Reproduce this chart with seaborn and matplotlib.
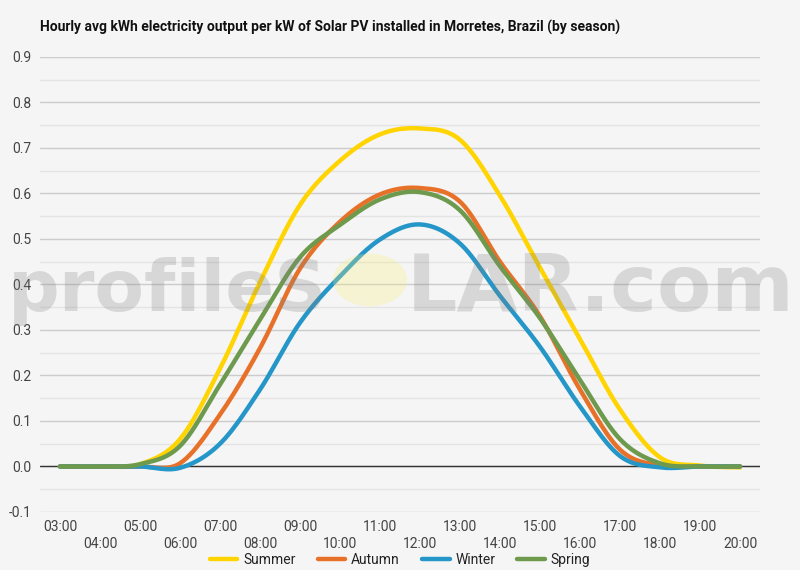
import numpy as np
import pandas as pd
import seaborn as sns
import matplotlib.pyplot as plt
from matplotlib.patches import Circle

hours = list(range(3, 21))
hour_labels = ['03:00', '04:00', '05:00', '06:00', '07:00', '08:00', '09:00', '10:00', '11:00',
               '12:00', '13:00', '14:00', '15:00', '16:00', '17:00', '18:00', '19:00', '20:00']
seasons = ['Summer', 'Autumn', 'Winter', 'Spring']
summer = [0.0, 0.0, 0.005, 0.06, 0.215, 0.405, 0.575, 0.672, 0.73, 0.743, 0.718, 0.595, 0.437, 0.28, 0.125, 0.02, 0.002, -0.002]
autumn = [0.0, 0.0, 0.0, 0.007, 0.114, 0.26, 0.435, 0.538, 0.598, 0.612, 0.582, 0.45, 0.33, 0.169, 0.037, 0.002, 0.0, 0.0]
winter = [0.0, 0.0, 0.0, -0.003, 0.05, 0.169, 0.316, 0.418, 0.499, 0.532, 0.49, 0.375, 0.263, 0.132, 0.023, -0.002, 0.0, 0.0]
spring = [0.0, 0.0, 0.005, 0.045, 0.18, 0.323, 0.46, 0.531, 0.587, 0.603, 0.563, 0.44, 0.326, 0.19, 0.06, 0.007, 0.0, 0.0]
colors = ['#FFD400', '#E8712A', '#2596C8', '#6E9A4E']


def smooth(x, y, n=24):
    # catmull-rom curve through the hourly points
    x = np.asarray(x, float)
    y = np.asarray(y, float)
    px = np.concatenate([[2 * x[0] - x[1]], x, [2 * x[-1] - x[-2]]])
    py = np.concatenate([[y[0]], y, [y[-1]]])
    xs, ys = [], []
    t = np.linspace(0, 1, n, endpoint=False)
    for i in range(1, len(px) - 2):
        for p, out in ((px, xs), (py, ys)):
            p0, p1, p2, p3 = p[i - 1], p[i], p[i + 1], p[i + 2]
            out.extend(0.5 * (2 * p1 + (-p0 + p2) * t + (2 * p0 - 5 * p1 + 4 * p2 - p3) * t ** 2
                              + (-p0 + 3 * p1 - 3 * p2 + p3) * t ** 3))
    xs.append(x[-1])
    ys.append(y[-1])
    return np.array(xs), np.array(ys)


frames = []
for name, vals in zip(seasons, [summer, autumn, winter, spring]):
    sx, sy = smooth(hours, vals)
    frames.append(pd.DataFrame({'hour': sx, 'kwh': sy, 'season': name}))
df = pd.concat(frames, ignore_index=True)

sns.set_style('white')
plt.rcParams['font.family'] = ['Roboto', 'DejaVu Sans']

fig = plt.figure(figsize=(8, 5.7), dpi=100, facecolor='#f5f5f5')
ax = fig.add_axes([0.05, 0.1018, 0.90, 0.7982])
ax.set_facecolor('#f5f5f5')

for y in np.arange(-0.1, 0.91, 0.1):
    ax.axhline(y, color='#cccccc', lw=1, zorder=0)
for y in np.arange(-0.05, 0.9, 0.1):
    ax.axhline(y, color='#e4e4e4', lw=1, zorder=0)
ax.axhline(0, color='#333333', lw=1, zorder=1)

sns.lineplot(data=df, x='hour', y='kwh', hue='season', hue_order=seasons,
             palette=colors, linewidth=3.2, sort=False, ax=ax, zorder=3)

ax.set_xlim(2.5, 20.5)
ax.set_ylim(-0.1, 0.9)
ax.set_yticks(np.round(np.arange(-0.1, 0.91, 0.1), 1))
ax.set_yticklabels([f'{v:.1f}' for v in np.arange(-0.1, 0.91, 0.1)])
ax.set_xticks(hours)
ax.set_xticklabels([lab if i % 2 == 0 else '\n' + lab for i, lab in enumerate(hour_labels)],
                   linespacing=1.25)
ax.tick_params(axis='both', length=0, labelsize=10, labelcolor='#444444', pad=6)
ax.set_xlabel('')
ax.set_ylabel('')
for s in ax.spines.values():
    s.set_visible(False)

handles, labels = ax.get_legend_handles_labels()
ax.get_legend().remove()
fig.legend(handles, labels, loc='lower center', bbox_to_anchor=(0.5, -0.016), ncol=4,
           frameon=False, fontsize=10, handlelength=2.0, columnspacing=1.6, handletextpad=0.4,
           labelcolor='#222222')

fig.text(0.05, 0.951, 'Hourly avg kWh electricity output per kW of Solar PV installed in Morretes, Brazil (by season)',
         fontsize=10, fontweight='bold', color='#111111', va='center')

# watermark
fig.add_artist(Circle((370 / 800, 1 - 280 / 570), 37 / 800, transform=fig.transFigure,
                      facecolor='#f6ee7a', edgecolor='none', alpha=0.28, zorder=10))
fig.text(327 / 800, 1 - 311 / 570, 'profileS', fontsize=52, fontweight='bold',
         color='#808080', alpha=0.25, ha='right', va='baseline', family='DejaVu Sans', zorder=11)
fig.text(407 / 800, 1 - 311 / 570, 'LAR.com', fontsize=57, fontweight='bold',
         color='#808080', alpha=0.25, ha='left', va='baseline', family='DejaVu Sans', zorder=11)

fig.savefig('out.png', dpi=100, facecolor=fig.get_facecolor())
